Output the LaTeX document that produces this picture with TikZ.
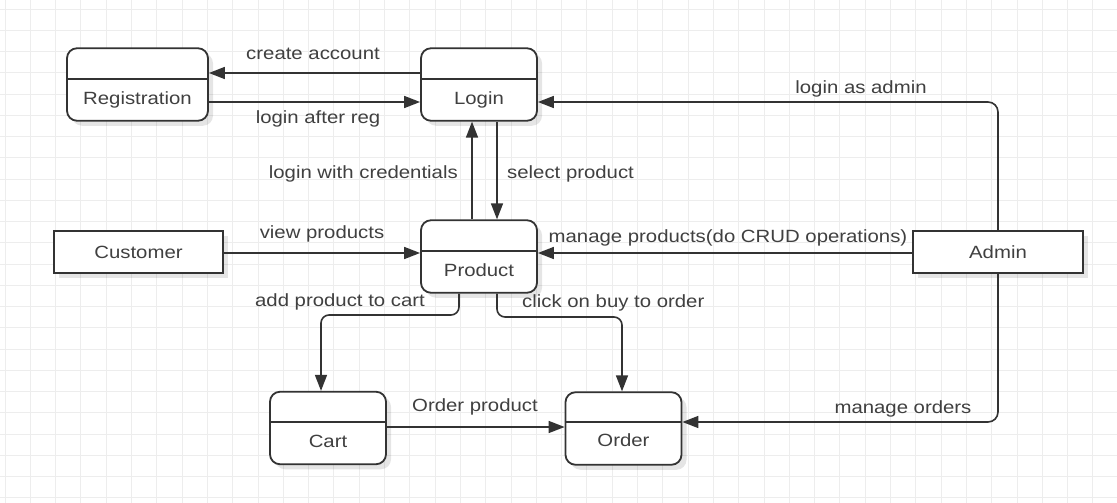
\documentclass[tikz,border=0pt]{standalone}
\usepackage{fontspec}
\setmainfont[FakeStretch=1.15]{Liberation Sans}
\usetikzlibrary{arrows.meta,shadows}
\definecolor{lineC}{HTML}{333333}
\definecolor{textC}{HTML}{404040}
\definecolor{gridC}{HTML}{EDEDED}
\tikzset{
  statebox/.style={draw=lineC, line width=1.8pt, fill=white, rounded corners=10pt,
    minimum width=#1, minimum height=72.5pt, inner sep=0pt,
    drop shadow={shadow xshift=5pt, shadow yshift=-5pt, opacity=0.1, fill=black}},
  statebox/.default=116pt,
  entitybox/.style={draw=lineC, line width=1.8pt, fill=white,
    minimum width=170pt, minimum height=42pt, inner sep=0pt, text=textC,
    drop shadow={shadow xshift=5pt, shadow yshift=-5pt, opacity=0.1, fill=black}},
  divider/.style={draw=lineC, line width=1.6pt},
  lbl/.style={text=textC, inner sep=0pt},
  conn/.style={draw=lineC, line width=1.6pt, -{Triangle[length=16pt,width=12pt]}},
  gridline/.style={draw=gridC, line width=1pt}
}
\begin{document}
\begin{tikzpicture}[x=1pt, y=-1pt, font=\fontsize{17.7}{21}\selectfont]
\useasboundingbox (0,0) rectangle (1117,503);
\fill[white] (0,0) rectangle (1117,503);
% grid
\foreach \i in {0,...,44} \draw[gridline] ({5+25.3*\i},0) -- ({5+25.3*\i},503);
\foreach \j in {0,...,23} \draw[gridline] (0,{9.2+21.25*\j}) -- (1117,{9.2+21.25*\j});

% state boxes
\node[statebox=141pt] (reg) at (137.5,84.5) {};
\node[statebox] (login) at (479,84.5) {};
\node[statebox] (product) at (479,256.5) {};
\node[statebox] (cart) at (328,428) {};
\node[statebox] (order) at (623.5,428.5) {};
\draw[divider] (reg.west |- 0,79) -- (reg.east |- 0,79);
\draw[divider] (login.west |- 0,79) -- (login.east |- 0,79);
\draw[divider] (product.west |- 0,251) -- (product.east |- 0,251);
\draw[divider] (cart.west |- 0,422) -- (cart.east |- 0,422);
\draw[divider] (order.west |- 0,422) -- (order.east |- 0,422);
\node[lbl, anchor=base] (regT) at (137.5,104) {Registration};
\node[lbl, anchor=base] (loginT) at (479,104) {Login};
\node[lbl, anchor=base] (productT) at (479,276) {Product};
\node[lbl, anchor=base] (cartT) at (328,447) {Cart};
\node[lbl, anchor=base] (orderT) at (623.5,446.5) {Order};

% entities
\node[entitybox, minimum width=169pt] (customer) at (138.5,252) {Customer};
\node[entitybox] (admin) at (998,252) {Admin};

% connectors
\draw[conn] (login.west |- 0,73) -- (reg.east |- 0,73);
\draw[conn] (reg.east |- 0,102) -- (login.west |- 0,102);
\draw[conn] (product.north -| 472,0) -- (login.south -| 472,0);
\draw[conn] (login.south -| 497,0) -- (product.north -| 497,0);
\draw[conn] (customer.east |- 0,253) -- (product.west |- 0,253);
\draw[conn] (admin.west |- 0,253) -- (product.east |- 0,253);
\draw[conn, rounded corners=10pt] (admin.north) |- (login.east |- 0,102);
\draw[conn, rounded corners=10pt] (admin.south) |- (order.east |- 0,422);
\draw[conn, rounded corners=8pt] (product.south -| 459,0) -- (459,315) -- (321,315) -- (cart.north -| 321,0);
\draw[conn, rounded corners=8pt] (product.south -| 497,0) -- (497,317) -- (622,317) -- (order.north -| 622,0);
\draw[conn] (cart.east |- 0,427) -- (order.west |- 0,427);

% labels
\node[lbl, anchor=base] (l1) at (313,60) {create account};
\node[lbl, anchor=base] (l2) at (318,123) {login after reg};
\node[lbl, anchor=base east] (l3) at (458,178) {login with credentials};
\node[lbl, anchor=base west] (l4) at (507,178) {select product};
\node[lbl, anchor=base] (l5) at (322,238) {view products};
\node[lbl, anchor=base] (l6) at (728,242) {manage products(do CRUD operations)};
\node[lbl, anchor=base] (l7) at (861,93) {login as admin};
\node[lbl, anchor=base] (l8) at (340,306) {add product to cart};
\node[lbl, anchor=base west] (l9) at (522,307) {click on buy to order};
\node[lbl, anchor=base] (l10) at (475,411) {Order product};
\node[lbl, anchor=base] (l11) at (903,413) {manage orders};
\end{tikzpicture}
\end{document}
